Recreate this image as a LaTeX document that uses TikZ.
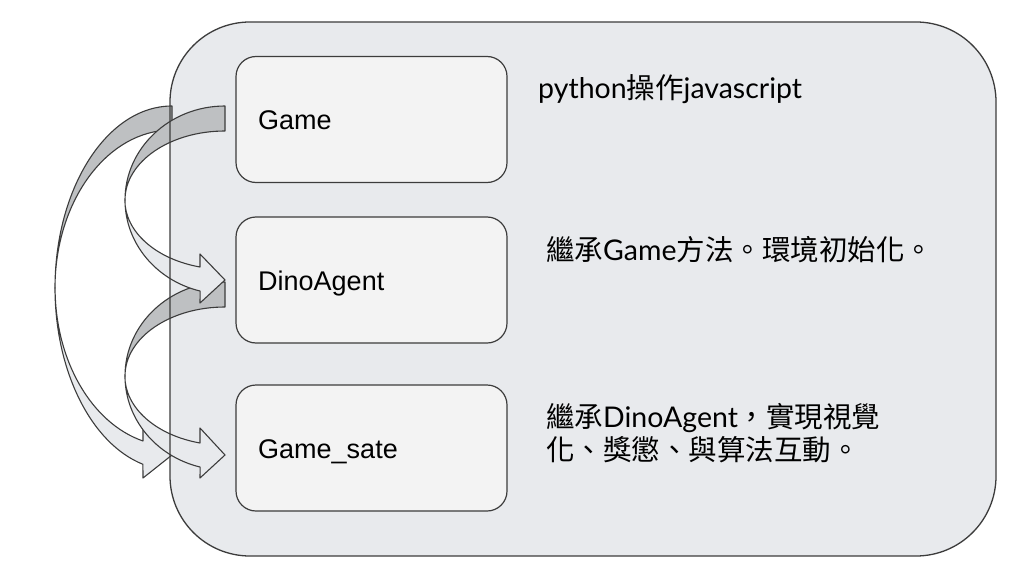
\documentclass[tikz,border=0pt]{standalone}
\usepackage{fontspec}
\setmainfont{Liberation Sans}
\newfontfamily\latofont{Lato}
\newfontfamily\cjkfont{Noto Sans CJK TC}
\definecolor{panelfill}{HTML}{E8EAED}
\definecolor{boxfill}{HTML}{F3F3F3}
\definecolor{edgegray}{HTML}{3C3C3C}
\definecolor{backgray}{HTML}{BEC0C2}
\definecolor{frontgray}{HTML}{E8EAED}
\tikzset{
  panel/.style={rounded corners=80pt, line width=1.3pt, draw=edgegray},
  classbox/.style={draw=edgegray, fill=boxfill, line width=1.2pt, rounded corners=20pt,
    minimum width=271pt, minimum height=126pt, inner sep=0pt},
  classname/.style={anchor=base west, inner sep=0pt, font=\fontsize{27}{32}\selectfont},
  note/.style={anchor=base west, inner sep=0pt, font=\fontsize{28.5}{33}\selectfont\latofont},
  arrowback/.style={fill=backgray, draw=edgegray, line width=1.1pt, line join=round},
  arrowfront/.style={fill=frontgray, draw=edgegray, line width=1.1pt, line join=round}
}
\begin{document}
\begin{tikzpicture}[x=1pt,y=-1pt]
\useasboundingbox (0,0) rectangle (1024,583);

\fill[panelfill, rounded corners=80pt] (170,22) rectangle (996,556);

\draw[arrowback] (172,106) arc[start angle=270, end angle=180, x radius=117, y radius=182]
  arc[start angle=180, end angle=270, x radius=117, y radius=158] -- cycle;
\draw[arrowfront] (55,288) arc[start angle=180, end angle=104.4, x radius=117, y radius=182]
  -- (143,478) -- (172,455) -- (143,419) -- (143,441)
  arc[start angle=104.4, end angle=180, x radius=117, y radius=158] -- cycle;

\draw[arrowback] (225,282) arc[start angle=270, end angle=180, x radius=100, y radius=94]
  arc[start angle=180, end angle=270, x radius=100, y radius=69] -- cycle;
\draw[arrowfront] (125,376) arc[start angle=180, end angle=104.4, x radius=100, y radius=94]
  -- (200,478) -- (225,455) -- (200,428) -- (200,443)
  arc[start angle=104.4, end angle=180, x radius=100, y radius=69] -- cycle;

\draw[arrowback] (225,106) arc[start angle=270, end angle=180, x radius=100, y radius=94]
  arc[start angle=180, end angle=270, x radius=100, y radius=69] -- cycle;
\draw[arrowfront] (125,200) arc[start angle=180, end angle=104.4, x radius=100, y radius=94]
  -- (200,303) -- (225,280) -- (200,254) -- (200,267)
  arc[start angle=104.4, end angle=180, x radius=100, y radius=69] -- cycle;

\draw[panel] (170,22) rectangle (996,556);

\node[classbox] (game) at (371.5,119.5) {};
\node[classbox] (dino) at (371.5,280) {};
\node[classbox] (state) at (371.5,448) {};

\node[classname] (gamename) at (258,129) {Game};
\node[classname] (dinoname) at (258,290) {DinoAgent};
\node[classname] (statename) at (258,458) {Game\_sate};

\node[note] (gamenote) at (538,99) {python{\cjkfont 操作}javascript};
\node[note] (dinonote) at (546,260) {{\cjkfont 繼承}Game{\cjkfont 方法。環境初始化。}};
\node[note] (statenote) at (546,427) {{\cjkfont 繼承}DinoAgent{\cjkfont ，實現視覺}};
\node[note] (statenotetwo) at (546,460) {{\cjkfont 化、獎懲、與算法互動。}};
\end{tikzpicture}
\end{document}
